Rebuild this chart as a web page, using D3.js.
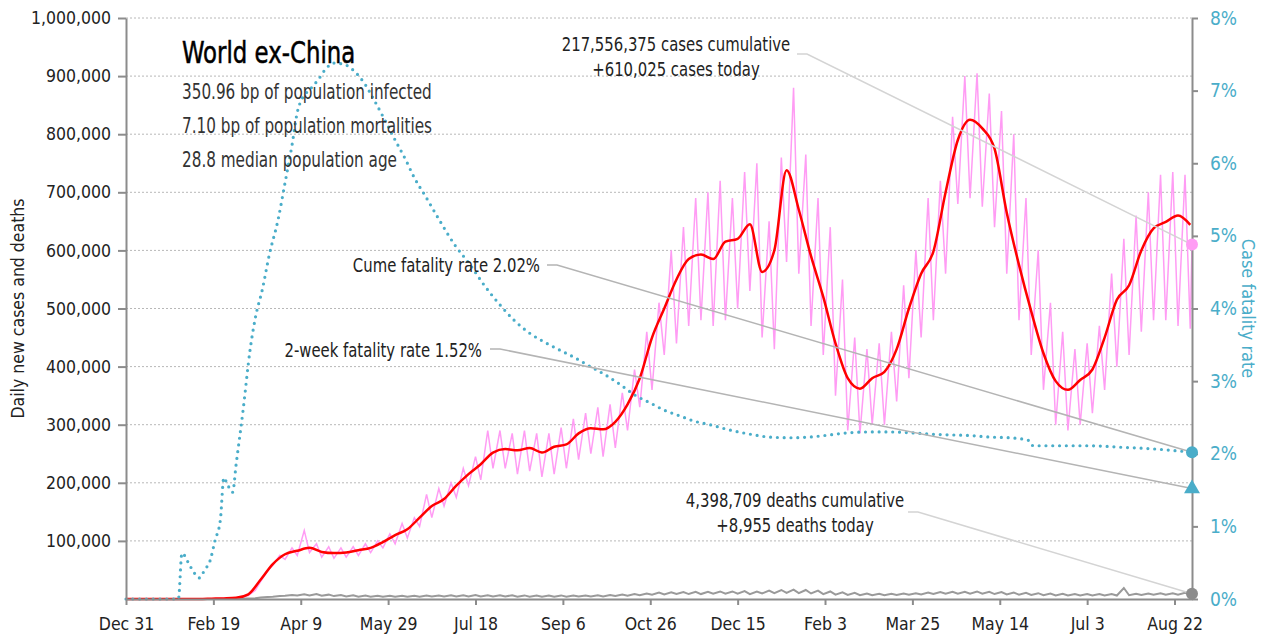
<!DOCTYPE html>
<html>
<head>
<meta charset="utf-8">
<script src="https://cdn.jsdelivr.net/npm/d3@7"></script>
<style>
  body { margin: 0; background: #fff; }
  svg text { font-family: "DejaVu Sans", sans-serif; font-stretch: condensed; }
</style>
</head>
<body>
<div id="chart"></div>
<script>
// ---- data ----
// weekly steps from Dec 31 2019, values in thousands
const casesAvg = [0, 0, 0, 0, 0, 0, 0, 0.5, 1, 2,
  8, 33, 60, 77, 83, 88, 81, 79, 80, 84,
  88, 98, 110, 120, 140, 160, 172, 195, 215, 232,
  252, 258, 256, 260, 252, 262, 266, 285, 294, 292,
  305, 335, 380, 450, 500, 550, 585, 593, 585, 615,
  620, 645, 563, 600, 738, 670, 590, 520, 440, 380,
  362, 380, 391, 430, 500, 560, 598, 700, 790, 825,
  810, 775, 665, 575, 495, 423, 375, 360, 377, 395,
  450, 515, 540, 600, 638, 649, 660, 644];
// daily new cases, weekly low (start of week) and high (mid-week)
const casesLo = [0, 0, 0, 0, 0, 0, 0, 0.3, 1, 2,
  6, 30, 58, 68, 75, 80, 72, 70, 72, 75,
  80, 88, 95, 105, 125, 140, 160, 175, 195, 205,
  225, 225, 215, 220, 210, 215, 225, 240, 250, 245,
  260, 290, 330, 360, 420, 440, 470, 480, 470, 480,
  500, 530, 450, 430, 580, 560, 470, 420, 350, 290,
  285, 300, 300, 340, 380, 450, 480, 560, 680, 690,
  675, 640, 560, 480, 420, 360, 300, 290, 300, 320,
  360, 400, 420, 460, 480, 480, 470, 465];
const casesHi = [0, 0, 0, 0, 0, 0, 0.3, 1, 2, 4,
  15, 48, 75, 88, 118, 95, 90, 88, 90, 95,
  100, 112, 130, 140, 180, 190, 200, 225, 245, 290,
  290, 285, 290, 285, 285, 295, 310, 320, 330, 335,
  355, 395, 460, 510, 600, 640, 690, 700, 720, 690,
  735, 750, 650, 760, 880, 765, 690, 640, 550, 450,
  430, 440, 460, 540, 600, 690, 720, 830, 900, 905,
  870, 840, 800, 690, 600, 510, 460, 430, 440, 470,
  560, 620, 660, 700, 730, 735, 730];
// daily deaths, thousands
const deathsLo = [0, 0, 0, 0, 0, 0, 0, 0.1, 0.2, 0.5,
  1, 2.5, 4, 5.5, 6, 6, 5.5, 5, 4.5, 4,
  4, 3.8, 3.8, 3.8, 4, 4.2, 4.5, 4.5, 4.5, 4.5,
  4.5, 4.3, 4, 4, 4, 4, 4, 4.2, 4.3, 4.5,
  5, 5.5, 6.5, 7.5, 8, 8.5, 8.5, 8.5, 9, 9,
  9, 8.5, 9.5, 10, 10.5, 10, 9.5, 8.5, 7.5, 7,
  6.5, 6.5, 6.5, 7, 7.5, 8, 8.5, 9, 9, 9,
  9, 8.5, 8, 7.5, 7, 6.5, 6, 6, 6, 6,
  6, 6, 6.5, 7, 7.5, 7.5, 7.5, 7.5];
const deathsHi = [0, 0, 0, 0, 0, 0, 0, 0.2, 0.4, 0.8,
  1.5, 3.5, 5, 7, 8, 8.5, 7.5, 7, 6.5, 6,
  5.5, 5.5, 5.5, 5.5, 6, 6, 6.5, 6.5, 7, 6.5,
  6.5, 6.5, 6.2, 6, 6, 6.2, 6, 6.2, 6.5, 7,
  7.5, 8.5, 9.5, 11, 11.5, 12, 12.5, 12.5, 13, 13,
  13.5, 13, 14.5, 15.5, 16, 15.5, 14.5, 13, 11.5, 10.5,
  9.5, 9, 9, 9.5, 10, 11, 12, 12.5, 12.5, 13,
  12.5, 12, 11, 10.5, 10, 9.5, 9, 8.5, 8.5, 8.5,
  8.5, 19, 9, 9.5, 10, 10, 10.5];
// cumulative case fatality rate, % (day offset from Dec 31 2019)
const cfrDay = [0, 30, 32, 37, 42, 45, 48, 51, 54, 56, 58, 61, 63, 67, 71, 74, 78, 82, 87, 91,
  95, 98, 101, 105, 110, 114, 119, 125, 131, 137, 142, 148, 154, 160, 165, 171, 180, 188, 197, 205,
  214, 222, 231, 240, 248, 257, 265, 274, 283, 291, 300, 308, 317, 325, 334, 345, 357, 368, 380, 391,
  403, 414, 426, 437, 448, 460, 471, 483, 494, 506, 517, 519, 534, 551, 569, 586, 597, 610];
const cfrPct = [0, 0, 0.63, 0.44, 0.29, 0.40, 0.52, 0.81, 1.09, 1.67, 1.58, 1.47, 1.85, 2.6, 3.43, 3.87, 4.26, 4.74, 5.22, 5.73,
  6.25, 6.7, 6.9, 7.01, 7.15, 7.29, 7.38, 7.36, 7.26, 7.08, 6.87, 6.6, 6.32, 6.05, 5.8, 5.56, 5.19, 4.88, 4.6, 4.32,
  4.05, 3.84, 3.66, 3.53, 3.43, 3.32, 3.21, 3.09, 2.95, 2.81, 2.7, 2.6, 2.52, 2.45, 2.4, 2.33, 2.27, 2.23, 2.22, 2.23,
  2.26, 2.29, 2.3, 2.3, 2.29, 2.27, 2.26, 2.25, 2.23, 2.22, 2.18, 2.11, 2.11, 2.11, 2.09, 2.07, 2.05, 2.02];

const casesToday = 610025;
const deathsToday = 8955;
const cumeRate = 2.02;
const twoWeekRate = 1.52;
const subtitleLines = ["350.96 bp of population infected", "7.10 bp of population mortalities", "28.8 median population age"];
const yTicks = [100000, 200000, 300000, 400000, 500000, 600000, 700000, 800000, 900000, 1000000];

// ---- layout ----
const width = 1265, height = 639;
const margin = {left: 126, right: 73, top: 18, bottom: 40};
const teal = "#4aadc9";

const start = new Date(Date.UTC(2019, 11, 31));
const end = d3.utcDay.offset(start, 610);
const day = n => d3.utcDay.offset(start, n);

let svg = d3.select("#chart").append("svg")
    .attr("width", width)
    .attr("height", height);

let x = d3.scaleUtc()
    .domain([start, end])
    .range([margin.left, width - margin.right]);

let yL = d3.scaleLinear()
    .domain([0, 1000000])
    .range([height - margin.bottom, margin.top]);

let yR = d3.scaleLinear()
    .domain([0, 8])
    .range([height - margin.bottom, margin.top]);

// tall, narrow text like the original condensed face
function label(g, px, py, str, size, sx, anchor, fill) {
    return g.append("text")
        .attr("transform", `translate(${px},${py}) scale(${sx},1)`)
        .style("font-size", size + "px")
        .style("text-anchor", anchor || "start")
        .attr("fill", fill || "#222")
        .text(str);
}

// gridlines
svg.append("g")
    .selectAll("line")
    .data(yTicks)
    .join("line")
    .attr("x1", margin.left)
    .attr("x2", width - margin.right)
    .attr("y1", d => yL(d))
    .attr("y2", d => yL(d))
    .attr("stroke", "#b8b8b8")
    .attr("stroke-width", 1)
    .attr("stroke-dasharray", "2,2");

// build series
let avgData = casesAvg.map((v, i) => [day(7 * i), v * 1000]);
let dailyData = [];
casesLo.forEach((v, i) => {
    dailyData.push([day(7 * i), v * 1000]);
    if (i < casesHi.length) dailyData.push([day(7 * i + 4), casesHi[i] * 1000]);
});
dailyData.push([end, casesToday]);

let deathData = [];
deathsLo.forEach((v, i) => {
    deathData.push([day(7 * i), v * 1000]);
    if (i < deathsHi.length) deathData.push([day(7 * i + 4), deathsHi[i] * 1000]);
});
deathData.push([end, deathsToday]);

let cfrData = cfrDay.map((d, i) => [day(d), cfrPct[i]]);

const lineL = d3.line().x(d => x(d[0])).y(d => yL(d[1]));
const lineR = d3.line().x(d => x(d[0])).y(d => yR(d[1]));

svg.append("path")
    .datum(deathData)
    .attr("d", lineL)
    .attr("fill", "none")
    .attr("stroke", "#9a9a9a")
    .attr("stroke-width", 2);

svg.append("path")
    .datum(dailyData)
    .attr("d", lineL)
    .attr("fill", "none")
    .attr("stroke", "#ff9cf4")
    .attr("stroke-width", 1.5);

svg.append("path")
    .datum(avgData)
    .attr("d", lineL.curve(d3.curveMonotoneX))
    .attr("fill", "none")
    .attr("stroke", "#ff0000")
    .attr("stroke-width", 2.5);

svg.append("path")
    .datum(cfrData)
    .attr("d", lineR.curve(d3.curveMonotoneX))
    .attr("fill", "none")
    .attr("stroke", teal)
    .attr("stroke-width", 3.2)
    .attr("stroke-linecap", "round")
    .attr("stroke-dasharray", "0,6.8");

// axes
let yAxisL = svg.append("g")
    .attr("transform", `translate(${margin.left},0)`)
    .call(d3.axisLeft(yL).tickValues(yTicks).tickFormat(d3.format(",")).tickSize(8).tickSizeOuter(0).tickPadding(7));

let yAxisR = svg.append("g")
    .attr("transform", `translate(${width - margin.right},0)`)
    .call(d3.axisRight(yR).ticks(8).tickFormat(d => d + "%").tickSize(6).tickSizeOuter(0).tickPadding(12));

let xAxis = svg.append("g")
    .attr("transform", `translate(0,${height - margin.bottom})`)
    .call(d3.axisBottom(x).tickValues(d3.range(0, 601, 50).map(day))
        .tickFormat(d3.utcFormat("%b %-d")).tickSize(6).tickSizeOuter(0).tickPadding(13));

[yAxisL, yAxisR, xAxis].forEach(g => {
    g.select(".domain").attr("stroke", "#8c8c8c").attr("stroke-width", 2);
    g.selectAll(".tick line").attr("stroke", "#8c8c8c").attr("stroke-width", 2);
    g.selectAll("text").style("font-size", "17.5px").attr("fill", "#222");
});
yAxisR.selectAll("text").attr("fill", teal).style("font-size", "19px");
xAxis.selectAll("text").style("font-size", "17.5px");

// axis titles
svg.append("text")
    .attr("transform", `translate(24, ${(margin.top + height - margin.bottom) / 2}) rotate(-90)`)
    .style("text-anchor", "middle")
    .style("font-size", "17.5px")
    .attr("fill", "#222")
    .text("Daily new cases and deaths");

svg.append("text")
    .attr("transform", `translate(1242, ${(margin.top + height - margin.bottom) / 2}) rotate(90)`)
    .style("text-anchor", "middle")
    .style("font-size", "18px")
    .attr("fill", teal)
    .text("Case fatality rate");

// title block
label(svg, 182, 63, "World ex-China", 31, 0.82, "start", "#000")
    .attr("stroke", "#000")
    .attr("stroke-width", 0.5);

subtitleLines.forEach((s, i) => label(svg, 182, 99 + i * 34, s, 22, 0.77, "start", "#333"));

// annotations with leader lines
const xe = x(end);
const notes = [
    {lines: ["217,556,375 cases cumulative", "+610,025 cases today"], tx: 676, ty: 51, anchor: "middle",
     from: [797, 54], to: [xe, yL(casesToday)], stroke: "#d4d4d4"},
    {lines: ["Cume fatality rate 2.02%"], tx: 540, ty: 272, anchor: "end",
     from: [547, 265], to: [xe, yR(cumeRate)], stroke: "#b4b4b4"},
    {lines: ["2-week fatality rate 1.52%"], tx: 482, ty: 357, anchor: "end",
     from: [490, 349], to: [xe, yR(twoWeekRate)], stroke: "#b4b4b4"},
    {lines: ["4,398,709 deaths cumulative", "+8,955 deaths today"], tx: 795, ty: 507, anchor: "middle",
     from: [908, 512], to: [xe, yL(deathsToday)], stroke: "#d4d4d4"}
];

notes.forEach(n => {
    svg.append("path")
        .attr("d", d3.line()([n.from, [n.from[0] + 10, n.from[1]], n.to]))
        .attr("fill", "none")
        .attr("stroke", n.stroke)
        .attr("stroke-width", 1.5);
    n.lines.forEach((s, i) => label(svg, n.tx, n.ty + i * 25, s, 19, 0.87, n.anchor, "#222"));
});

// end markers
svg.append("circle").attr("cx", xe).attr("cy", yL(casesToday)).attr("r", 6).attr("fill", "#ff9cf4");
svg.append("circle").attr("cx", xe).attr("cy", yR(cumeRate)).attr("r", 6).attr("fill", teal);
svg.append("path")
    .attr("d", d3.symbol(d3.symbolTriangle, 110)())
    .attr("transform", `translate(${xe},${yR(twoWeekRate)})`)
    .attr("fill", teal);
svg.append("circle").attr("cx", xe).attr("cy", yL(deathsToday)).attr("r", 6).attr("fill", "#8c8c8c");
</script>
</body>
</html>
